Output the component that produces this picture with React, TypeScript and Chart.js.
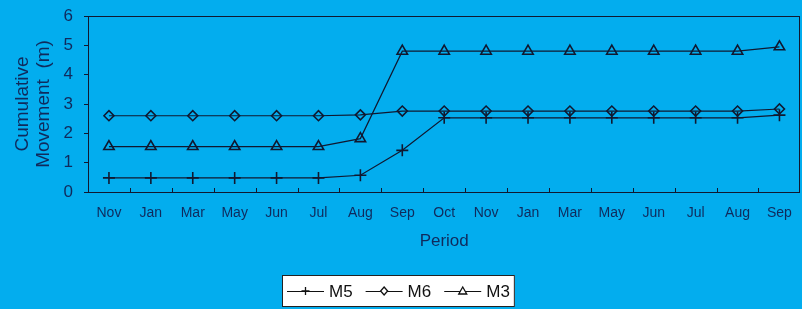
import React, { useEffect, useRef } from "react";
import { Chart, registerables } from "chart.js";

Chart.register(...registerables);

const categories = ["Nov", "Jan", "Mar", "May", "Jun", "Jul", "Aug", "Sep", "Oct", "Nov", "Jan", "Mar", "May", "Jun", "Jul", "Aug", "Sep"];
const m5 = [0.48, 0.48, 0.48, 0.48, 0.48, 0.48, 0.57, 1.42, 2.53, 2.53, 2.53, 2.53, 2.53, 2.53, 2.53, 2.53, 2.62];
const m6 = [2.6, 2.6, 2.6, 2.6, 2.6, 2.6, 2.63, 2.76, 2.76, 2.76, 2.76, 2.76, 2.76, 2.76, 2.76, 2.76, 2.83];
const m3 = [1.55, 1.55, 1.55, 1.55, 1.55, 1.55, 1.82, 4.8, 4.8, 4.8, 4.8, 4.8, 4.8, 4.8, 4.8, 4.8, 4.95];
const yTicks = [0, 1, 2, 3, 4, 5, 6];
const xTitle = "Period";
const yTitle = ["Cumulative", "Movement  (m)"];

const BG = "#03ADEE";
const TEXT = "#102a5c";
const LINE = "#101830";
const FONT = "'Liberation Sans', Arial, sans-serif";

const framePlugin = {
  id: "frame",
  beforeDraw(chart: any) {
    const { ctx, width, height } = chart;
    ctx.save();
    ctx.fillStyle = BG;
    ctx.fillRect(0, 0, width, height);
    ctx.restore();
  },
  beforeDatasetsDraw(chart: any) {
    const { ctx, chartArea } = chart;
    const x = chart.scales.x;
    ctx.save();
    ctx.strokeStyle = LINE;
    ctx.lineWidth = 1;
    ctx.strokeRect(Math.round(chartArea.left) + 0.5, Math.round(chartArea.top) + 0.5,
      Math.round(chartArea.right - chartArea.left) - 1, Math.round(chartArea.bottom - chartArea.top));
    const n = categories.length;
    for (let i = 1; i < n; i++) {
      const px = Math.round((x.getPixelForTick(i - 1) + x.getPixelForTick(i)) / 2) + 0.5;
      ctx.beginPath();
      ctx.moveTo(px, chartArea.bottom);
      ctx.lineTo(px, chartArea.bottom - 4);
      ctx.stroke();
    }
    ctx.restore();
  },
  afterDraw(chart: any) {
    const { ctx } = chart;
    const ds = chart.data.datasets;
    ctx.save();
    ctx.font = `17px ${FONT}`;
    const lineLen = 37, gap1 = 5, gap2 = 13, padX = 5;
    const widths = ds.map((d: any) => ctx.measureText(d.label).width);
    let total = padX * 2;
    widths.forEach((w: number, i: number) => {
      total += lineLen + gap1 + w + (i < ds.length - 1 ? gap2 : 0);
    });
    const cx = 398;
    const cy = 291;
    const h = 32;
    const left = Math.round(cx - total / 2);
    ctx.fillStyle = "#ffffff";
    ctx.fillRect(left, cy - h / 2, total, h);
    ctx.strokeStyle = "#222";
    ctx.lineWidth = 1;
    ctx.strokeRect(left + 0.5, cy - h / 2 + 0.5, total - 1, h - 1);
    let xx = left + padX;
    ds.forEach((d: any, i: number) => {
      ctx.strokeStyle = "#111";
      ctx.lineWidth = 1;
      ctx.beginPath();
      ctx.moveTo(xx, cy + 0.5);
      ctx.lineTo(xx + lineLen, cy + 0.5);
      ctx.stroke();
      const mx = xx + lineLen / 2;
      ctx.lineWidth = 1.3;
      ctx.beginPath();
      if (d.pointStyle === "cross") {
        ctx.moveTo(mx - 4, cy); ctx.lineTo(mx + 4, cy);
        ctx.moveTo(mx, cy - 4); ctx.lineTo(mx, cy + 4);
      } else if (d.pointStyle === "rectRot") {
        ctx.moveTo(mx, cy - 4); ctx.lineTo(mx + 3.5, cy); ctx.lineTo(mx, cy + 4); ctx.lineTo(mx - 3.5, cy); ctx.closePath();
        ctx.fillStyle = "#fff"; ctx.fill();
      } else {
        ctx.moveTo(mx, cy - 4); ctx.lineTo(mx + 4, cy + 3); ctx.lineTo(mx - 4, cy + 3); ctx.closePath();
        ctx.fillStyle = "#fff"; ctx.fill();
      }
      ctx.stroke();
      ctx.fillStyle = "#111";
      ctx.textBaseline = "middle";
      ctx.textAlign = "left";
      ctx.fillText(d.label, xx + lineLen + gap1, cy + 1);
      xx += lineLen + gap1 + widths[i] + gap2;
    });
    ctx.restore();
  },
};

export default function App() {
  const ref = useRef<HTMLCanvasElement>(null);
  useEffect(() => {
    if (!ref.current) return;
    const mk = (label: string, data: number[], pointStyle: string, radius: number) => ({
      label,
      data,
      borderColor: LINE,
      borderWidth: 1.2,
      pointStyle,
      pointRadius: radius,
      pointBorderColor: LINE,
      pointBackgroundColor: "rgba(0,0,0,0)",
      pointBorderWidth: 1.6,
      tension: 0,
      fill: false,
    });
    const chart = new Chart(ref.current, {
      type: "line",
      data: {
        labels: categories,
        datasets: [
          mk("M5", m5, "cross", 6),
          mk("M6", m6, "rectRot", 5),
          mk("M3", m3, "triangle", 6),
        ],
      },
      options: {
        animation: false,
        responsive: false,
        devicePixelRatio: 1,
        layout: { padding: { left: 0, top: 16, right: 0, bottom: 57 } },
        plugins: { legend: { display: false }, tooltip: { enabled: false } },
        scales: {
          x: {
            type: "category",
            offset: true,
            afterFit: (s: any) => { s.height = 60; s.paddingLeft = 0; s.paddingRight = 0; },
            grid: { display: false, drawTicks: false },
            border: { display: false },
            ticks: {
              color: TEXT,
              font: { family: FONT, size: 14 },
              padding: 12.6,
              maxRotation: 0,
              autoSkip: false,
            },
            title: {
              display: true,
              text: xTitle,
              color: TEXT,
              font: { family: FONT, size: 17 },
              padding: { top: 10, bottom: 0 },
            },
          },
          y: {
            min: 0,
            max: 6,
            afterFit: (s: any) => { s.width = 88; s.paddingTop = 0; s.paddingBottom = 0; },
            afterBuildTicks: (s: any) => { s.ticks = yTicks.map((v) => ({ value: v })); },
            grid: { drawOnChartArea: false, drawTicks: true, tickLength: 4, color: LINE },
            border: { display: false },
            ticks: {
              color: TEXT,
              font: { family: FONT, size: 17 },
              padding: 11,
            },
            title: {
              display: true,
              text: yTitle,
              color: TEXT,
              font: { family: FONT, size: 19, lineHeight: 1.1 },
              padding: { top: 12.5, bottom: 0 },
            },
          },
        },
      },
      plugins: [framePlugin],
    });
    return () => chart.destroy();
  }, []);
  return (
    <div style={{ position: "fixed", left: 0, top: 0, width: 802, height: 309, overflow: "hidden", background: BG }}>
      <canvas ref={ref} width={808} height={309} style={{ display: "block", width: 808, height: 309 }} />
    </div>
  );
}
